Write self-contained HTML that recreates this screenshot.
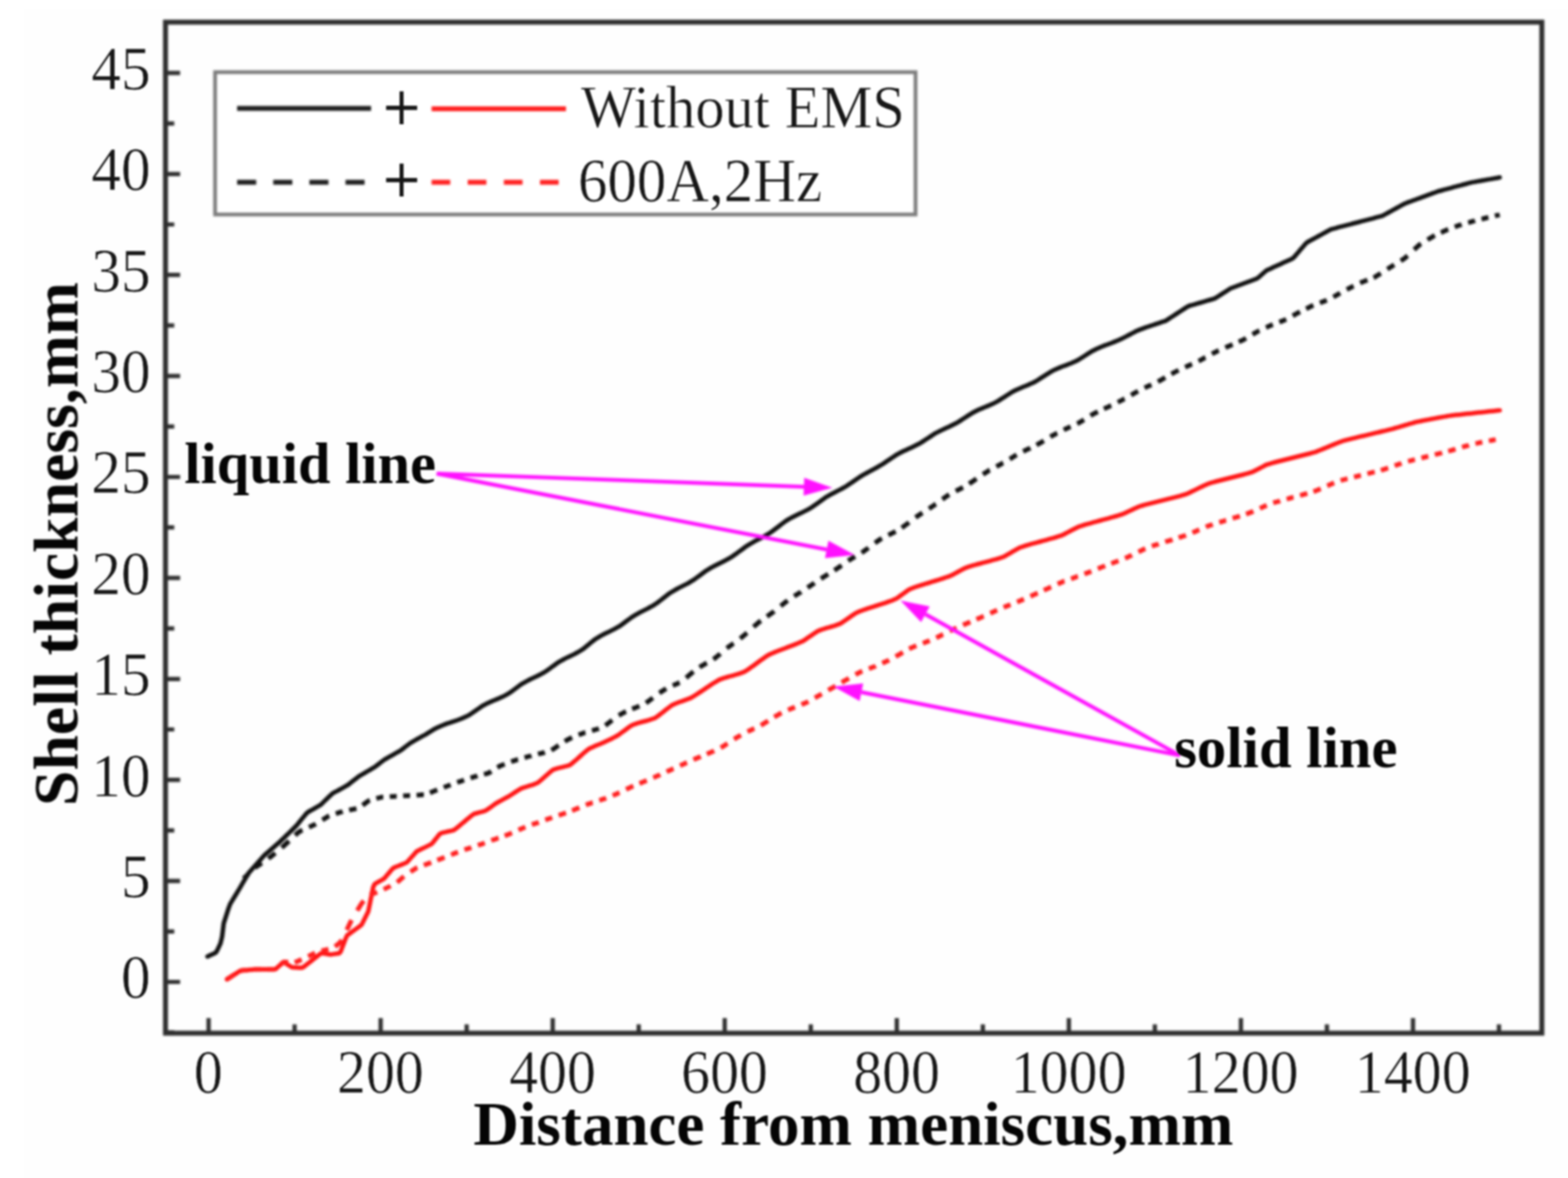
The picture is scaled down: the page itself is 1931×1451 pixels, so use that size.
<!DOCTYPE html>
<html lang="en"><head><meta charset="utf-8"><title>Shell thickness vs distance from meniscus</title>
<style>html,body{margin:0;padding:0;background:#fff;}body{width:1931px;height:1451px;overflow:hidden;}svg{display:block;}text{font-family:"Liberation Serif","DejaVu Serif",serif;fill:#161616;stroke:#fefefe;stroke-width:0.6px;paint-order:fill stroke;}.b{font-weight:bold;fill:#050505;stroke:none;}</style></head><body>
<svg xmlns="http://www.w3.org/2000/svg" width="1931" height="1451" viewBox="0 0 1931 1451">
<rect x="0" y="0" width="1931" height="1451" fill="#ffffff"/>
<rect x="30" y="11" width="1901" height="1440" fill="#fefefe"/>
<defs><filter id="softg" x="0" y="0" width="1931" height="1451" filterUnits="userSpaceOnUse" color-interpolation-filters="sRGB"><feGaussianBlur stdDeviation="1.8"/></filter><filter id="softt" x="0" y="0" width="1931" height="1451" filterUnits="userSpaceOnUse" color-interpolation-filters="sRGB"><feGaussianBlur stdDeviation="1.25"/></filter></defs>
<g id="plot" filter="url(#softg)">
<rect x="203.8" y="27.3" width="1695.0" height="1245.3" fill="none" stroke="#2e2e2e" stroke-width="6.1"/>
<path d="M203.8,1209.5h18.0M203.8,1085.1h18.0M203.8,960.7h18.0M203.8,836.3h18.0M203.8,711.9h18.0M203.8,587.5h18.0M203.8,463.1h18.0M203.8,338.7h18.0M203.8,214.3h18.0M203.8,89.9h18.0M203.8,1271.7h10.8M203.8,1147.3h10.8M203.8,1022.9h10.8M203.8,898.5h10.8M203.8,774.1h10.8M203.8,649.7h10.8M203.8,525.3h10.8M203.8,400.9h10.8M203.8,276.5h10.8M203.8,152.1h10.8M256.9,1272.6v-18.6M468.8,1272.6v-18.6M680.7,1272.6v-18.6M892.5,1272.6v-18.6M1104.4,1272.6v-18.6M1316.3,1272.6v-18.6M1528.2,1272.6v-18.6M1740.1,1272.6v-18.6M362.8,1272.6v-10.8M574.7,1272.6v-10.8M786.6,1272.6v-10.8M998.5,1272.6v-10.8M1210.4,1272.6v-10.8M1422.2,1272.6v-10.8M1634.1,1272.6v-10.8M1846.0,1272.6v-10.8" fill="none" stroke="#2e2e2e" stroke-width="5.2"/>
<rect x="264.9" y="88.9" width="862.6" height="175.3" fill="#fff" stroke="#7c7c7c" stroke-width="4.6"/>
<path d="M292,133.5H457" stroke="#1e1e1e" stroke-width="5.8" fill="none"/>
<path d="M292,224.5H457" stroke="#1e1e1e" stroke-width="5.9" stroke-dasharray="23.5 21" fill="none"/>
<path d="M531.5,134H697" stroke="#ff2020" stroke-width="5.8" fill="none"/>
<path d="M531.5,224.5H697" stroke="#ff2020" stroke-width="5.9" stroke-dasharray="23 21.5" fill="none"/>
<polyline points="255.5,1178.2 257.5,1177.3 259.5,1176.3 261.5,1175.4 263.5,1174.5 265.5,1173.6 267.5,1170.6 269.5,1166.4 271.5,1162.1 273.5,1153.9 275.5,1137.3 277.5,1131.1 279.5,1124.9 281.5,1118.7 283.5,1113.4 285.5,1110.1 287.5,1106.8 289.5,1103.5 291.5,1100.2 293.5,1096.9 295.5,1093.6 297.5,1090.2 299.5,1086.7 301.5,1083.3 303.5,1079.9 305.5,1076.4 307.5,1073.8 309.5,1071.6 311.5,1069.3 313.5,1067.1 315.5,1064.8 317.5,1062.6 319.5,1060.3 321.5,1058.1 323.5,1055.8 325.5,1053.6 327.5,1051.7 329.5,1050.0 331.5,1048.3 333.5,1046.5 335.5,1044.8 337.5,1043.1 339.5,1041.3 341.5,1039.6 343.5,1037.9 345.5,1036.0 347.5,1034.1 349.5,1032.2 351.5,1030.2 353.5,1028.3 355.5,1026.4 357.5,1024.4 359.5,1022.5 361.5,1020.5 363.5,1018.5 365.5,1016.5 367.5,1014.0 369.5,1011.5 371.5,1009.1 373.5,1006.6 375.5,1004.2 377.5,1001.8 379.5,1000.1 381.5,999.0 383.5,997.9 385.5,996.8 387.5,995.6 389.5,994.5 391.5,993.3 393.5,992.2 395.5,990.9 397.5,988.9 399.5,986.9 401.5,984.9 403.5,983.0 405.5,981.1 407.5,979.2 409.5,977.3 411.5,976.2 413.5,975.1 415.5,974.1 417.5,973.0 419.5,971.9 421.5,970.8 423.5,969.7 425.5,968.5 427.5,967.4 429.5,966.1 431.5,964.4 433.5,962.8 435.5,961.3 437.5,959.7 439.5,958.2 441.5,956.6 443.5,955.3 445.5,954.2 447.5,953.0 449.5,951.9 451.5,950.7 453.5,949.5 455.5,948.3 457.5,947.1 459.5,945.9 461.5,944.8 463.5,943.2 465.5,941.7 467.5,940.2 469.5,938.6 471.5,937.1 473.5,935.6 475.5,934.5 477.5,933.4 479.5,932.2 481.5,931.1 483.5,930.0 485.5,928.8 487.5,927.7 489.5,926.5 491.5,925.5 493.5,924.2 495.5,922.7 497.5,921.2 499.5,919.6 501.5,918.1 503.5,916.6 505.5,915.1 507.5,914.0 509.5,912.8 511.5,911.7 513.5,910.5 515.5,909.4 517.5,908.3 519.5,907.2 521.5,906.1 523.5,905.1 525.5,903.9 527.5,902.6 529.5,901.4 531.5,900.2 533.5,898.9 535.5,897.7 537.5,896.7 539.5,895.8 541.5,894.9 543.5,894.0 545.5,893.2 547.5,892.4 549.5,891.6 551.5,890.9 553.5,890.3 555.5,889.6 557.5,889.0 559.5,888.3 561.5,887.7 563.5,887.0 565.5,886.2 567.5,885.5 569.5,884.6 571.5,883.8 573.5,882.8 575.5,881.9 577.5,880.9 579.5,879.5 581.5,878.2 583.5,876.8 585.5,875.4 587.5,874.0 589.5,872.7 591.5,871.3 593.5,869.9 595.5,868.7 597.5,867.7 599.5,866.6 601.5,865.7 603.5,864.7 605.5,863.9 607.5,863.0 609.5,862.2 611.5,861.4 613.5,860.6 615.5,859.7 617.5,858.8 619.5,857.9 621.5,856.9 623.5,855.8 625.5,854.7 627.5,853.5 629.5,852.1 631.5,850.6 633.5,849.1 635.5,847.6 637.5,846.1 639.5,844.6 641.5,843.1 643.5,841.9 645.5,840.8 647.5,839.6 649.5,838.6 651.5,837.5 653.5,836.5 655.5,835.6 657.5,834.6 659.5,833.7 661.5,832.8 663.5,831.7 665.5,830.7 667.5,829.6 669.5,828.5 671.5,827.3 673.5,826.0 675.5,824.6 677.5,823.1 679.5,821.6 681.5,820.2 683.5,818.7 685.5,817.2 687.5,815.9 689.5,814.7 691.5,813.6 693.5,812.5 695.5,811.4 697.5,810.4 699.5,809.4 701.5,808.5 703.5,807.6 705.5,806.6 707.5,805.6 709.5,804.5 711.5,803.4 713.5,802.3 715.5,801.0 717.5,799.8 719.5,798.3 721.5,796.6 723.5,795.0 725.5,793.4 727.5,791.7 729.5,790.1 731.5,788.5 733.5,787.0 735.5,785.8 737.5,784.6 739.5,783.4 741.5,782.3 743.5,781.2 745.5,780.2 747.5,779.3 749.5,778.4 751.5,777.4 753.5,776.4 755.5,775.4 757.5,774.3 759.5,773.2 761.5,772.1 763.5,770.9 765.5,769.5 767.5,768.0 769.5,766.5 771.5,765.0 773.5,763.6 775.5,762.1 777.5,760.6 779.5,759.3 781.5,758.1 783.5,756.9 785.5,755.8 787.5,754.7 789.5,753.6 791.5,752.6 793.5,751.6 795.5,750.6 797.5,749.6 799.5,748.5 801.5,747.4 803.5,746.3 805.5,745.1 807.5,743.8 809.5,742.5 811.5,740.9 813.5,739.4 815.5,737.8 817.5,736.2 819.5,734.7 821.5,733.1 823.5,731.5 825.5,730.2 827.5,729.0 829.5,727.8 831.5,726.6 833.5,725.5 835.5,724.4 837.5,723.4 839.5,722.4 841.5,721.4 843.5,720.4 845.5,719.4 847.5,718.3 849.5,717.1 851.5,715.9 853.5,714.7 855.5,713.4 857.5,711.9 859.5,710.4 861.5,709.0 863.5,707.5 865.5,706.0 867.5,704.5 869.5,703.0 871.5,701.8 873.5,700.6 875.5,699.4 877.5,698.3 879.5,697.2 881.5,696.2 883.5,695.2 885.5,694.2 887.5,693.3 889.5,692.3 891.5,691.2 893.5,690.2 895.5,689.1 897.5,688.0 899.5,686.8 901.5,685.6 903.5,684.3 905.5,682.8 907.5,681.4 909.5,679.9 911.5,678.4 913.5,677.0 915.5,675.5 917.5,674.0 919.5,672.6 921.5,671.4 923.5,670.2 925.5,669.0 927.5,667.8 929.5,666.7 931.5,665.6 933.5,664.6 935.5,663.6 937.5,662.5 939.5,661.4 941.5,660.3 943.5,659.2 945.5,658.0 947.5,656.8 949.5,655.5 951.5,654.1 953.5,652.5 955.5,651.0 957.5,649.5 959.5,648.0 961.5,646.4 963.5,644.9 965.5,643.4 967.5,641.9 969.5,640.6 971.5,639.4 973.5,638.3 975.5,637.2 977.5,636.2 979.5,635.2 981.5,634.2 983.5,633.3 985.5,632.3 987.5,631.4 989.5,630.4 991.5,629.4 993.5,628.4 995.5,627.3 997.5,626.2 999.5,625.0 1001.5,623.6 1003.5,622.2 1005.5,620.8 1007.5,619.4 1009.5,617.9 1011.5,616.5 1013.5,615.1 1015.5,613.6 1017.5,612.2 1019.5,611.1 1021.5,609.9 1023.5,608.8 1025.5,607.8 1027.5,606.7 1029.5,605.7 1031.5,604.6 1033.5,603.6 1035.5,602.6 1037.5,601.5 1039.5,600.4 1041.5,599.3 1043.5,598.0 1045.5,596.6 1047.5,595.3 1049.5,593.9 1051.5,592.6 1053.5,591.2 1055.5,589.8 1057.5,588.5 1059.5,587.1 1061.5,585.9 1063.5,584.7 1065.5,583.6 1067.5,582.5 1069.5,581.4 1071.5,580.3 1073.5,579.2 1075.5,578.2 1077.5,577.1 1079.5,576.0 1081.5,574.9 1083.5,573.7 1085.5,572.5 1087.5,571.3 1089.5,569.9 1091.5,568.6 1093.5,567.2 1095.5,565.9 1097.5,564.5 1099.5,563.2 1101.5,561.9 1103.5,560.5 1105.5,559.4 1107.5,558.3 1109.5,557.3 1111.5,556.3 1113.5,555.3 1115.5,554.4 1117.5,553.5 1119.5,552.6 1121.5,551.7 1123.5,550.7 1125.5,549.8 1127.5,548.8 1129.5,547.8 1131.5,546.8 1133.5,545.7 1135.5,544.4 1137.5,543.1 1139.5,541.8 1141.5,540.5 1143.5,539.2 1145.5,537.9 1147.5,536.6 1149.5,535.2 1151.5,533.9 1153.5,532.9 1155.5,531.9 1157.5,530.8 1159.5,529.9 1161.5,528.9 1163.5,528.0 1165.5,527.1 1167.5,526.2 1169.5,525.3 1171.5,524.3 1173.5,523.3 1175.5,522.3 1177.5,521.3 1179.5,520.2 1181.5,518.9 1183.5,517.6 1185.5,516.3 1187.5,515.0 1189.5,513.7 1191.5,512.4 1193.5,511.1 1195.5,509.9 1197.5,508.6 1199.5,507.5 1201.5,506.5 1203.5,505.5 1205.5,504.6 1207.5,503.7 1209.5,502.9 1211.5,502.0 1213.5,501.2 1215.5,500.4 1217.5,499.6 1219.5,498.7 1221.5,497.8 1223.5,496.9 1225.5,495.9 1227.5,494.9 1229.5,493.7 1231.5,492.4 1233.5,491.1 1235.5,489.8 1237.5,488.6 1239.5,487.3 1241.5,486.0 1243.5,484.7 1245.5,483.4 1247.5,482.3 1249.5,481.3 1251.5,480.3 1253.5,479.4 1255.5,478.5 1257.5,477.7 1259.5,476.8 1261.5,476.0 1263.5,475.2 1265.5,474.4 1267.5,473.5 1269.5,472.6 1271.5,471.7 1273.5,470.7 1275.5,469.7 1277.5,468.5 1279.5,467.2 1281.5,465.9 1283.5,464.6 1285.5,463.4 1287.5,462.1 1289.5,460.8 1291.5,459.6 1293.5,458.3 1295.5,457.1 1297.5,456.1 1299.5,455.2 1301.5,454.3 1303.5,453.4 1305.5,452.6 1307.5,451.8 1309.5,451.0 1311.5,450.3 1313.5,449.6 1315.5,448.8 1317.5,448.0 1319.5,447.2 1321.5,446.3 1323.5,445.4 1325.5,444.5 1327.5,443.5 1329.5,442.3 1331.5,441.0 1333.5,439.8 1335.5,438.5 1337.5,437.2 1339.5,435.9 1341.5,434.7 1343.5,433.4 1345.5,432.2 1347.5,431.2 1349.5,430.2 1351.5,429.3 1353.5,428.4 1355.5,427.5 1357.5,426.7 1359.5,425.9 1361.5,425.2 1363.5,424.5 1365.5,423.7 1367.5,423.0 1369.5,422.2 1371.5,421.4 1373.5,420.6 1375.5,419.8 1377.5,419.0 1379.5,418.1 1381.5,417.2 1383.5,416.1 1385.5,415.1 1387.5,414.1 1389.5,413.0 1391.5,412.0 1393.5,410.9 1395.5,409.9 1397.5,408.8 1399.5,407.8 1401.5,406.9 1403.5,406.1 1405.5,405.4 1407.5,404.6 1409.5,403.9 1411.5,403.2 1413.5,402.5 1415.5,401.8 1417.5,401.2 1419.5,400.5 1421.5,399.8 1423.5,399.1 1425.5,398.5 1427.5,397.8 1429.5,397.1 1431.5,396.4 1433.5,395.8 1435.5,395.1 1437.5,393.9 1439.5,392.6 1441.5,391.3 1443.5,390.0 1445.5,388.7 1447.5,387.4 1449.5,386.1 1451.5,384.8 1453.5,383.5 1455.5,382.2 1457.5,380.9 1459.5,379.6 1461.5,378.3 1463.5,377.1 1465.5,376.5 1467.5,375.9 1469.5,375.4 1471.5,374.8 1473.5,374.2 1475.5,373.6 1477.5,373.0 1479.5,372.5 1481.5,371.9 1483.5,371.3 1485.5,370.7 1487.5,370.1 1489.5,369.5 1491.5,369.0 1493.5,368.4 1495.5,367.8 1497.5,366.8 1499.5,365.5 1501.5,364.2 1503.5,362.9 1505.5,361.6 1507.5,360.3 1509.5,359.1 1511.5,357.8 1513.5,356.5 1515.5,355.2 1517.5,354.5 1519.5,353.7 1521.5,353.0 1523.5,352.2 1525.5,351.5 1527.5,350.7 1529.5,350.0 1531.5,349.2 1533.5,348.5 1535.5,347.7 1537.5,347.0 1539.5,346.3 1541.5,345.5 1543.5,344.8 1545.5,344.0 1547.5,343.3 1549.5,342.0 1551.5,340.3 1553.5,338.5 1555.5,336.7 1557.5,335.0 1559.5,333.2 1561.5,332.3 1563.5,331.4 1565.5,330.5 1567.5,329.5 1569.5,328.6 1571.5,327.7 1573.5,326.8 1575.5,325.9 1577.5,325.0 1579.5,324.0 1581.5,323.1 1583.5,322.2 1585.5,321.3 1587.5,320.4 1589.5,319.5 1591.5,318.6 1593.5,316.9 1595.5,314.6 1597.5,312.3 1599.5,310.0 1601.5,307.6 1603.5,305.3 1605.5,303.0 1607.5,300.6 1609.5,298.6 1611.5,297.5 1613.5,296.4 1615.5,295.3 1617.5,294.3 1619.5,293.2 1621.5,292.1 1623.5,291.0 1625.5,289.9 1627.5,288.8 1629.5,287.7 1631.5,286.6 1633.5,285.5 1635.5,284.4 1637.5,283.3 1639.5,282.3 1641.5,281.8 1643.5,281.3 1645.5,280.8 1647.5,280.2 1649.5,279.7 1651.5,279.2 1653.5,278.7 1655.5,278.2 1657.5,277.6 1659.5,277.1 1661.5,276.6 1663.5,276.1 1665.5,275.5 1667.5,275.0 1669.5,274.5 1671.5,274.0 1673.5,273.5 1675.5,272.9 1677.5,272.4 1679.5,271.9 1681.5,271.4 1683.5,270.9 1685.5,270.3 1687.5,269.8 1689.5,269.3 1691.5,268.8 1693.5,268.2 1695.5,267.7 1697.5,267.2 1699.5,266.7 1701.5,266.2 1703.5,265.3 1705.5,264.2 1707.5,263.1 1709.5,262.0 1711.5,260.9 1713.5,259.8 1715.5,258.7 1717.5,257.6 1719.5,256.5 1721.5,255.4 1723.5,254.3 1725.5,253.2 1727.5,252.1 1729.5,251.0 1731.5,250.2 1733.5,249.4 1735.5,248.7 1737.5,248.0 1739.5,247.2 1741.5,246.5 1743.5,245.8 1745.5,245.0 1747.5,244.3 1749.5,243.6 1751.5,242.8 1753.5,242.1 1755.5,241.4 1757.5,240.6 1759.5,239.9 1761.5,239.2 1763.5,238.4 1765.5,237.7 1767.5,237.0 1769.5,236.2 1771.5,235.5 1773.5,235.0 1775.5,234.5 1777.5,233.9 1779.5,233.4 1781.5,232.9 1783.5,232.3 1785.5,231.8 1787.5,231.3 1789.5,230.7 1791.5,230.2 1793.5,229.7 1795.5,229.1 1797.5,228.6 1799.5,228.1 1801.5,227.5 1803.5,227.0 1805.5,226.5 1807.5,225.9 1809.5,225.4 1811.5,224.9 1813.5,224.4 1815.5,224.1 1817.5,223.7 1819.5,223.4 1821.5,223.0 1823.5,222.7 1825.5,222.3 1827.5,222.0 1829.5,221.6 1831.5,221.3 1833.5,220.9 1835.5,220.6 1837.5,220.2 1839.5,219.9 1841.5,219.5 1843.5,219.2 1845.5,218.8 1846.9,218.6" fill="none" stroke="#101010" stroke-width="5.5" stroke-linejoin="round" stroke-linecap="round"/>
<path d="M300.0,1082.0L302.0,1080.1L304.0,1078.3L306.0,1076.4M314.0,1068.9L316.0,1067.3L318.0,1066.0L320.0,1064.7L322.0,1063.3L322.5,1063.0M330.5,1057.6L332.5,1056.0L334.5,1054.4L336.5,1052.8L338.5,1051.2L339.0,1050.8M347.0,1044.2L349.0,1042.4L351.0,1040.5L353.0,1038.7L355.0,1036.9L356.0,1036.0M363.5,1028.9L365.5,1027.0L367.5,1025.2L369.5,1023.9L371.5,1022.9L372.5,1022.5M380.5,1018.9L382.5,1018.0L384.5,1017.0L386.5,1016.1L388.5,1015.2L389.0,1014.9M397.0,1010.0L399.0,1008.8L401.0,1007.6L403.0,1006.3L405.0,1005.1L405.5,1004.9M413.5,1002.2L415.5,1001.6L417.5,1000.9L419.5,1000.3L421.5,999.7L422.0,999.5M430.0,997.9L432.0,997.4L434.0,997.0L436.0,996.6L438.0,996.2L439.0,996.0M446.5,991.9L448.5,990.4L450.5,988.9L452.5,987.4L454.5,986.1L455.5,985.7M463.5,983.6L465.5,983.0L467.5,982.5L469.5,982.0L471.5,981.8L472.0,981.8M480.0,981.4L482.0,981.2L484.0,981.1L486.0,981.0L488.0,980.9L488.5,980.9M496.5,980.4L498.5,980.2L500.5,980.1L502.5,980.0L504.5,979.8L505.0,979.8M513.0,979.4L515.0,979.3L517.0,979.2L519.0,979.0L521.0,978.9L522.0,978.9M529.5,976.5L531.5,975.7L533.5,974.9L535.5,974.1L537.5,973.3L538.5,972.9M546.5,969.9L548.5,969.1L550.5,968.4L552.5,967.6L554.5,966.9L555.0,966.7M563.0,963.8L565.0,963.1L567.0,962.4L569.0,961.7L571.0,961.0L571.5,960.8M579.5,958.2L581.5,957.6L583.5,957.0L585.5,956.4L587.5,955.8L588.0,955.6M596.0,953.8L598.0,953.3L600.0,952.8L602.0,952.0L604.0,950.8L605.0,950.1M612.5,945.4L614.5,944.2L616.5,943.2L618.5,942.4L620.5,941.6L621.5,941.2M629.5,938.2L631.5,937.5L633.5,936.9L635.5,936.2L637.5,935.6L638.0,935.5M646.0,933.1L648.0,932.6L650.0,932.0L652.0,931.5L654.0,931.0L654.5,930.8M662.5,928.8L664.5,928.3L666.5,927.9L668.5,927.4L670.5,926.9L671.0,926.7M679.0,924.0L681.0,922.9L683.0,921.6L685.0,920.2L687.0,918.7L688.0,918.0M695.5,913.2L697.5,912.0L699.5,910.9L701.5,909.9L703.5,908.9L704.5,908.4M712.5,905.1L714.5,904.4L716.5,903.7L718.5,903.0L720.5,902.4L721.0,902.3M729.0,899.9L731.0,899.4L733.0,898.8L735.0,898.2L737.0,897.5L737.5,897.3M745.5,893.6L747.5,892.1L749.5,890.5L751.5,888.9L753.5,887.3L754.0,886.9M762.0,881.2L764.0,880.1L766.0,878.9L768.0,877.9L770.0,876.9L771.0,876.5M778.5,873.2L780.5,872.4L782.5,871.7L784.5,870.9L786.5,870.1L787.5,869.7M795.5,865.9L797.5,864.5L799.5,863.0L801.5,861.5L803.5,860.0L804.0,859.6M812.0,853.6L814.0,852.3L816.0,851.0L818.0,849.8L820.0,848.6L820.5,848.3M828.5,844.4L830.5,843.6L832.5,842.8L834.5,841.9L836.5,840.9L837.0,840.7M845.0,835.0L847.0,833.2L849.0,831.4L851.0,829.7L853.0,828.1L854.0,827.3M861.5,821.9L863.5,820.6L865.5,819.4L867.5,818.2L869.5,817.1L870.5,816.6M878.5,812.1L880.5,810.7L882.5,809.1L884.5,807.4L886.5,805.7L887.0,805.2M895.0,798.5L897.0,797.0L899.0,795.6L901.0,794.2L903.0,792.7L903.5,792.4M911.5,786.6L913.5,785.0L915.5,783.3L917.5,781.6L919.5,779.8L920.0,779.4M928.0,772.2L930.0,770.4L932.0,768.7L934.0,766.9L936.0,765.4L937.0,764.7M944.5,759.4L946.5,758.0L948.5,756.5L950.5,755.1L952.5,753.7L953.5,752.9M961.5,746.4L963.5,744.8L965.5,743.2L967.5,741.6L969.5,740.1L970.0,739.7M978.0,734.4L980.0,733.1L982.0,731.9L984.0,730.6L986.0,729.4L986.5,729.0M994.5,723.9L996.5,722.5L998.5,721.2L1000.5,719.8L1002.5,718.5L1003.0,718.1M1011.0,712.8L1013.0,711.5L1015.0,710.2L1017.0,709.0L1019.0,707.8L1020.0,707.2M1027.5,702.5L1029.5,701.2L1031.5,699.9L1033.5,698.5L1035.5,697.1L1036.5,696.4M1044.5,690.8L1046.5,689.5L1048.5,688.3L1050.5,687.1L1052.5,685.9L1053.0,685.6M1061.0,680.9L1063.0,679.6L1065.0,678.1L1067.0,676.7L1069.0,675.2L1069.5,674.8M1077.5,668.8L1079.5,667.4L1081.5,666.0L1083.5,664.6L1085.5,663.4L1086.0,663.1M1094.0,659.1L1096.0,658.2L1098.0,657.2L1100.0,656.2L1102.0,655.2L1103.0,654.7M1110.5,650.1L1112.5,648.7L1114.5,647.2L1116.5,645.7L1118.5,644.2L1119.5,643.4M1127.5,637.4L1129.5,636.0L1131.5,634.6L1133.5,633.3L1135.5,632.0L1136.0,631.7M1144.0,626.6L1146.0,625.3L1148.0,623.9L1150.0,622.6L1152.0,621.1L1152.5,620.8M1160.5,615.0L1162.5,613.6L1164.5,612.2L1166.5,610.8L1168.5,609.5L1169.0,609.2M1177.0,604.9L1179.0,603.9L1181.0,602.9L1183.0,601.9L1185.0,600.8L1186.0,600.3M1193.5,595.9L1195.5,594.5L1197.5,593.2L1199.5,591.8L1201.5,590.4L1202.5,589.7M1210.5,584.3L1212.5,583.0L1214.5,581.7L1216.5,580.5L1218.5,579.2L1219.0,579.0M1227.0,574.7L1229.0,573.6L1231.0,572.6L1233.0,571.5L1235.0,570.4L1235.5,570.2M1243.5,565.4L1245.5,564.2L1247.5,563.0L1249.5,561.8L1251.5,560.6L1252.0,560.3M1260.0,556.0L1262.0,555.1L1264.0,554.2L1266.0,553.2L1268.0,552.3L1269.0,551.8M1276.5,548.2L1278.5,547.0L1280.5,545.9L1282.5,544.7L1284.5,543.5L1285.5,542.9M1293.5,538.1L1295.5,536.9L1297.5,535.8L1299.5,534.8L1301.5,533.7L1302.0,533.5M1310.0,529.5L1312.0,528.5L1314.0,527.6L1316.0,526.7L1318.0,525.8L1318.5,525.6M1326.5,521.8L1328.5,520.9L1330.5,519.8L1332.5,518.6L1334.5,517.3L1335.0,517.0M1343.0,512.0L1345.0,510.7L1347.0,509.6L1349.0,508.6L1351.0,507.6L1352.0,507.1M1359.5,503.6L1361.5,502.7L1363.5,501.8L1365.5,500.9L1367.5,499.9L1368.5,499.5M1376.5,495.5L1378.5,494.5L1380.5,493.5L1382.5,492.5L1384.5,491.4L1385.0,491.2M1393.0,486.7L1395.0,485.5L1397.0,484.3L1399.0,483.2L1401.0,482.0L1401.5,481.7M1409.5,477.7L1411.5,476.8L1413.5,475.9L1415.5,475.0L1417.5,474.2L1418.0,474.0M1426.0,470.3L1428.0,469.1L1430.0,467.9L1432.0,466.7L1434.0,465.5L1435.0,464.9M1442.5,460.6L1444.5,459.6L1446.5,458.5L1448.5,457.5L1450.5,456.5L1451.5,456.0M1459.5,452.3L1461.5,451.4L1463.5,450.5L1465.5,449.6L1467.5,448.7L1468.0,448.5M1476.0,444.8L1478.0,443.8L1480.0,442.7L1482.0,441.6L1484.0,440.5L1484.5,440.3M1492.5,435.9L1494.5,434.8L1496.5,433.8L1498.5,432.8L1500.5,431.9L1501.0,431.7M1509.0,428.2L1511.0,427.3L1513.0,426.5L1515.0,425.6L1517.0,424.8L1518.0,424.4M1525.5,421.1L1527.5,420.2L1529.5,419.3L1531.5,418.3L1533.5,417.2L1534.5,416.6M1542.5,412.0L1544.5,410.8L1546.5,409.6L1548.5,408.5L1550.5,407.5L1551.0,407.3M1559.0,403.4L1561.0,402.6L1563.0,401.7L1565.0,400.8L1567.0,400.0L1567.5,399.8M1575.5,396.8L1577.5,396.0L1579.5,395.2L1581.5,394.4L1583.5,393.6L1584.0,393.4M1592.0,389.0L1594.0,387.9L1596.0,386.8L1598.0,385.6L1600.0,384.6L1601.0,384.1M1608.5,380.3L1610.5,379.3L1612.5,378.3L1614.5,377.3L1616.5,376.5L1617.5,376.1M1625.5,373.1L1627.5,372.3L1629.5,371.6L1631.5,370.8L1633.5,370.1L1634.0,369.9M1642.0,365.8L1644.0,364.7L1646.0,363.6L1648.0,362.4L1650.0,361.3L1650.5,361.0M1658.5,356.6L1660.5,355.6L1662.5,354.6L1664.5,353.6L1666.5,352.6L1667.0,352.4M1675.0,348.5L1677.0,347.6L1679.0,346.9L1681.0,346.1L1683.0,345.3L1684.0,344.9M1691.5,342.0L1693.5,341.1L1695.5,339.8L1697.5,338.6L1699.5,337.3L1700.5,336.7M1708.5,331.6L1710.5,330.3L1712.5,329.1L1714.5,327.8L1716.5,326.6L1717.0,326.3M1725.0,321.2L1727.0,320.0L1729.0,318.7L1731.0,317.2L1733.0,315.3L1733.5,314.9M1741.5,307.5L1743.5,305.7L1745.5,303.8L1747.5,302.0L1749.5,300.6L1750.0,300.3M1758.0,295.4L1760.0,294.1L1762.0,292.9L1764.0,291.7L1766.0,290.5L1767.0,290.0M1774.5,286.6L1776.5,285.7L1778.5,284.7L1780.5,283.8L1782.5,282.9L1783.5,282.5M1791.5,279.5L1793.5,278.8L1795.5,278.1L1797.5,277.3L1799.5,276.7L1800.0,276.5M1808.0,274.2L1810.0,273.7L1812.0,273.1L1814.0,272.5L1816.0,272.0L1816.5,271.8M1824.5,269.8L1826.5,269.4L1828.5,268.9L1830.5,268.4L1832.5,267.9L1833.0,267.8M1841.0,265.9L1843.0,265.4L1845.0,265.0L1846.9,264.5" fill="none" stroke="#101010" stroke-width="5.8" stroke-linejoin="round"/>
<polyline points="279.5,1206.3 281.5,1205.0 283.5,1203.7 285.5,1202.4 287.5,1201.1 289.5,1199.9 291.5,1198.6 293.5,1197.3 295.5,1196.0 297.5,1195.5 299.5,1195.3 301.5,1195.1 303.5,1195.0 305.5,1194.8 307.5,1194.6 309.5,1194.5 311.5,1194.3 313.5,1194.1 315.5,1193.9 317.5,1193.9 319.5,1193.9 321.5,1193.9 323.5,1193.9 325.5,1193.9 327.5,1193.9 329.5,1193.9 331.5,1193.9 333.5,1193.9 335.5,1193.9 337.5,1193.9 339.5,1193.6 341.5,1191.8 343.5,1190.0 345.5,1188.2 347.5,1186.3 349.5,1185.0 351.5,1186.3 353.5,1187.7 355.5,1189.0 357.5,1190.3 359.5,1191.4 361.5,1191.5 363.5,1191.7 365.5,1191.8 367.5,1191.9 369.5,1192.0 371.5,1192.1 373.5,1191.3 375.5,1189.8 377.5,1188.2 379.5,1186.6 381.5,1185.1 383.5,1183.5 385.5,1181.9 387.5,1180.4 389.5,1178.8 391.5,1177.2 393.5,1175.6 395.5,1174.1 397.5,1174.3 399.5,1174.6 401.5,1174.9 403.5,1175.2 405.5,1175.5 407.5,1175.7 409.5,1175.4 411.5,1175.1 413.5,1174.8 415.5,1174.5 417.5,1174.2 419.5,1172.2 421.5,1166.9 423.5,1161.7 425.5,1156.4 427.5,1152.1 429.5,1150.7 431.5,1149.2 433.5,1147.8 435.5,1146.3 437.5,1144.9 439.5,1143.4 441.5,1142.0 443.5,1140.5 445.5,1138.8 447.5,1134.8 449.5,1130.8 451.5,1126.8 453.5,1122.8 455.5,1113.1 457.5,1103.0 459.5,1093.0 461.5,1088.8 463.5,1087.7 465.5,1086.5 467.5,1085.4 469.5,1084.3 471.5,1083.2 473.5,1081.7 475.5,1079.3 477.5,1076.9 479.5,1074.6 481.5,1072.3 483.5,1069.9 485.5,1068.6 487.5,1067.8 489.5,1067.0 491.5,1066.2 493.5,1065.4 495.5,1064.6 497.5,1063.8 499.5,1063.0 501.5,1061.8 503.5,1059.5 505.5,1057.2 507.5,1055.0 509.5,1052.8 511.5,1050.5 513.5,1048.4 515.5,1047.5 517.5,1046.5 519.5,1045.5 521.5,1044.6 523.5,1043.6 525.5,1042.6 527.5,1041.6 529.5,1040.6 531.5,1039.5 533.5,1037.3 535.5,1034.7 537.5,1032.2 539.5,1029.8 541.5,1027.3 543.5,1026.1 545.5,1025.6 547.5,1025.1 549.5,1024.7 551.5,1024.2 553.5,1023.8 555.5,1023.4 557.5,1022.9 559.5,1022.1 561.5,1020.6 563.5,1019.0 565.5,1017.3 567.5,1015.7 569.5,1014.0 571.5,1012.3 573.5,1010.6 575.5,1008.9 577.5,1007.3 579.5,1005.7 581.5,1004.1 583.5,1002.6 585.5,1002.0 587.5,1001.5 589.5,1000.9 591.5,1000.4 593.5,999.9 595.5,999.3 597.5,998.7 599.5,997.6 601.5,996.2 603.5,994.8 605.5,993.4 607.5,991.9 609.5,990.4 611.5,989.1 613.5,988.0 615.5,986.9 617.5,985.8 619.5,984.7 621.5,983.6 623.5,982.5 625.5,981.5 627.5,980.3 629.5,979.0 631.5,977.7 633.5,976.4 635.5,975.1 637.5,973.8 639.5,972.6 641.5,971.4 643.5,970.6 645.5,969.9 647.5,969.3 649.5,968.7 651.5,968.0 653.5,967.4 655.5,966.8 657.5,966.1 659.5,965.3 661.5,964.5 663.5,963.2 665.5,961.5 667.5,959.8 669.5,958.0 671.5,956.2 673.5,954.5 675.5,952.7 677.5,951.0 679.5,949.3 681.5,947.9 683.5,947.3 685.5,946.6 687.5,946.1 689.5,945.6 691.5,945.1 693.5,944.7 695.5,944.2 697.5,943.7 699.5,943.1 701.5,942.4 703.5,941.0 705.5,939.4 707.5,937.7 709.5,936.0 711.5,934.2 713.5,932.4 715.5,930.6 717.5,928.8 719.5,927.0 721.5,925.3 723.5,923.7 725.5,922.3 727.5,921.3 729.5,920.4 731.5,919.5 733.5,918.6 735.5,917.8 737.5,917.0 739.5,916.2 741.5,915.3 743.5,914.4 745.5,913.5 747.5,912.6 749.5,911.6 751.5,910.7 753.5,909.7 755.5,908.6 757.5,907.6 759.5,906.5 761.5,905.4 763.5,903.9 765.5,902.4 767.5,900.9 769.5,899.5 771.5,898.0 773.5,896.5 775.5,895.1 777.5,893.7 779.5,892.8 781.5,892.0 783.5,891.4 785.5,890.7 787.5,890.1 789.5,889.5 791.5,889.0 793.5,888.5 795.5,888.0 797.5,887.5 799.5,886.8 801.5,886.2 803.5,885.5 805.5,884.8 807.5,883.9 809.5,882.4 811.5,881.0 813.5,879.4 815.5,877.9 817.5,876.3 819.5,874.7 821.5,873.1 823.5,871.6 825.5,870.1 827.5,868.6 829.5,867.7 831.5,866.8 833.5,866.0 835.5,865.2 837.5,864.5 839.5,863.8 841.5,863.1 843.5,862.4 845.5,861.7 847.5,860.9 849.5,860.2 851.5,859.2 853.5,858.0 855.5,856.8 857.5,855.5 859.5,854.2 861.5,852.9 863.5,851.6 865.5,850.3 867.5,848.9 869.5,847.6 871.5,846.2 873.5,844.9 875.5,843.5 877.5,842.2 879.5,841.0 881.5,839.8 883.5,838.6 885.5,837.4 887.5,836.6 889.5,835.9 891.5,835.2 893.5,834.6 895.5,834.0 897.5,833.4 899.5,832.9 901.5,832.3 903.5,831.8 905.5,831.2 907.5,830.7 909.5,830.0 911.5,829.4 913.5,828.7 915.5,827.9 917.5,827.0 919.5,825.7 921.5,824.4 923.5,823.0 925.5,821.6 927.5,820.2 929.5,818.7 931.5,817.2 933.5,815.7 935.5,814.2 937.5,812.8 939.5,811.4 941.5,810.0 943.5,808.6 945.5,807.3 947.5,806.3 949.5,805.3 951.5,804.5 953.5,803.6 955.5,802.8 957.5,802.0 959.5,801.2 961.5,800.5 963.5,799.7 965.5,799.0 967.5,798.2 969.5,797.4 971.5,796.7 973.5,795.9 975.5,795.2 977.5,794.4 979.5,793.6 981.5,792.8 983.5,792.0 985.5,791.1 987.5,790.2 989.5,789.2 991.5,787.9 993.5,786.5 995.5,785.1 997.5,783.8 999.5,782.4 1001.5,781.0 1003.5,779.7 1005.5,778.4 1007.5,777.2 1009.5,776.4 1011.5,775.7 1013.5,775.0 1015.5,774.3 1017.5,773.7 1019.5,773.1 1021.5,772.6 1023.5,772.0 1025.5,771.4 1027.5,770.8 1029.5,770.1 1031.5,769.4 1033.5,768.7 1035.5,767.7 1037.5,766.4 1039.5,765.0 1041.5,763.7 1043.5,762.3 1045.5,760.9 1047.5,759.5 1049.5,758.1 1051.5,756.8 1053.5,755.4 1055.5,754.4 1057.5,753.5 1059.5,752.7 1061.5,752.0 1063.5,751.2 1065.5,750.6 1067.5,749.9 1069.5,749.2 1071.5,748.6 1073.5,747.9 1075.5,747.3 1077.5,746.6 1079.5,746.0 1081.5,745.4 1083.5,744.7 1085.5,744.1 1087.5,743.4 1089.5,742.8 1091.5,742.1 1093.5,741.4 1095.5,740.7 1097.5,740.0 1099.5,739.2 1101.5,738.3 1103.5,737.5 1105.5,736.2 1107.5,734.8 1109.5,733.3 1111.5,731.9 1113.5,730.4 1115.5,729.0 1117.5,727.5 1119.5,726.2 1121.5,725.3 1123.5,724.5 1125.5,723.7 1127.5,723.0 1129.5,722.3 1131.5,721.7 1133.5,721.1 1135.5,720.4 1137.5,719.8 1139.5,719.2 1141.5,718.6 1143.5,718.0 1145.5,717.4 1147.5,716.7 1149.5,716.1 1151.5,715.5 1153.5,714.9 1155.5,714.3 1157.5,713.7 1159.5,713.0 1161.5,712.4 1163.5,711.7 1165.5,711.0 1167.5,710.3 1169.5,709.6 1171.5,708.8 1173.5,707.8 1175.5,706.7 1177.5,705.6 1179.5,704.5 1181.5,703.4 1183.5,702.3 1185.5,701.2 1187.5,700.2 1189.5,699.3 1191.5,698.6 1193.5,697.9 1195.5,697.3 1197.5,696.7 1199.5,696.1 1201.5,695.6 1203.5,695.0 1205.5,694.5 1207.5,694.0 1209.5,693.4 1211.5,692.9 1213.5,692.4 1215.5,691.8 1217.5,691.3 1219.5,690.8 1221.5,690.2 1223.5,689.7 1225.5,689.2 1227.5,688.6 1229.5,688.0 1231.5,687.3 1233.5,686.7 1235.5,686.0 1237.5,685.0 1239.5,683.9 1241.5,682.7 1243.5,681.6 1245.5,680.4 1247.5,679.2 1249.5,678.1 1251.5,676.9 1253.5,675.8 1255.5,674.7 1257.5,674.0 1259.5,673.3 1261.5,672.6 1263.5,672.0 1265.5,671.4 1267.5,670.8 1269.5,670.2 1271.5,669.7 1273.5,669.2 1275.5,668.6 1277.5,668.1 1279.5,667.5 1281.5,667.0 1283.5,666.4 1285.5,665.9 1287.5,665.3 1289.5,664.8 1291.5,664.2 1293.5,663.7 1295.5,663.1 1297.5,662.6 1299.5,662.0 1301.5,661.4 1303.5,660.7 1305.5,660.1 1307.5,659.4 1309.5,658.5 1311.5,657.5 1313.5,656.4 1315.5,655.4 1317.5,654.3 1319.5,653.3 1321.5,652.2 1323.5,651.2 1325.5,650.2 1327.5,649.2 1329.5,648.4 1331.5,647.8 1333.5,647.1 1335.5,646.5 1337.5,645.9 1339.5,645.3 1341.5,644.8 1343.5,644.3 1345.5,643.7 1347.5,643.2 1349.5,642.6 1351.5,642.1 1353.5,641.5 1355.5,641.0 1357.5,640.4 1359.5,639.9 1361.5,639.3 1363.5,638.8 1365.5,638.3 1367.5,637.7 1369.5,637.2 1371.5,636.6 1373.5,636.0 1375.5,635.5 1377.5,634.9 1379.5,634.2 1381.5,633.6 1383.5,632.8 1385.5,631.9 1387.5,631.0 1389.5,630.1 1391.5,629.1 1393.5,628.2 1395.5,627.2 1397.5,626.3 1399.5,625.4 1401.5,624.5 1403.5,623.7 1405.5,623.1 1407.5,622.5 1409.5,621.9 1411.5,621.4 1413.5,620.9 1415.5,620.4 1417.5,619.9 1419.5,619.4 1421.5,618.9 1423.5,618.4 1425.5,617.9 1427.5,617.4 1429.5,616.9 1431.5,616.4 1433.5,615.9 1435.5,615.4 1437.5,614.8 1439.5,614.3 1441.5,613.9 1443.5,613.4 1445.5,612.9 1447.5,612.4 1449.5,611.8 1451.5,611.3 1453.5,610.8 1455.5,610.2 1457.5,609.6 1459.5,609.0 1461.5,608.3 1463.5,607.4 1465.5,606.5 1467.5,605.5 1469.5,604.6 1471.5,603.6 1473.5,602.6 1475.5,601.6 1477.5,600.6 1479.5,599.7 1481.5,598.7 1483.5,597.8 1485.5,596.9 1487.5,596.0 1489.5,595.3 1491.5,594.7 1493.5,594.2 1495.5,593.6 1497.5,593.0 1499.5,592.5 1501.5,592.0 1503.5,591.5 1505.5,591.0 1507.5,590.5 1509.5,590.0 1511.5,589.5 1513.5,589.0 1515.5,588.5 1517.5,588.0 1519.5,587.5 1521.5,587.0 1523.5,586.5 1525.5,586.0 1527.5,585.5 1529.5,585.0 1531.5,584.5 1533.5,583.9 1535.5,583.4 1537.5,582.8 1539.5,582.2 1541.5,581.6 1543.5,580.8 1545.5,579.8 1547.5,578.8 1549.5,577.7 1551.5,576.7 1553.5,575.6 1555.5,574.6 1557.5,573.5 1559.5,572.5 1561.5,571.9 1563.5,571.3 1565.5,570.7 1567.5,570.1 1569.5,569.5 1571.5,569.0 1573.5,568.5 1575.5,568.0 1577.5,567.5 1579.5,567.0 1581.5,566.5 1583.5,566.0 1585.5,565.5 1587.5,565.0 1589.5,564.5 1591.5,564.0 1593.5,563.5 1595.5,563.0 1597.5,562.5 1599.5,562.0 1601.5,561.5 1603.5,561.0 1605.5,560.5 1607.5,560.0 1609.5,559.5 1611.5,559.0 1613.5,558.5 1615.5,557.9 1617.5,557.3 1619.5,556.8 1621.5,556.1 1623.5,555.3 1625.5,554.5 1627.5,553.7 1629.5,552.9 1631.5,552.1 1633.5,551.3 1635.5,550.4 1637.5,549.6 1639.5,548.7 1641.5,547.9 1643.5,547.1 1645.5,546.3 1647.5,545.5 1649.5,544.7 1651.5,544.0 1653.5,543.2 1655.5,542.7 1657.5,542.1 1659.5,541.6 1661.5,541.1 1663.5,540.6 1665.5,540.1 1667.5,539.6 1669.5,539.2 1671.5,538.7 1673.5,538.2 1675.5,537.7 1677.5,537.2 1679.5,536.8 1681.5,536.3 1683.5,535.8 1685.5,535.3 1687.5,534.9 1689.5,534.4 1691.5,533.9 1693.5,533.4 1695.5,532.9 1697.5,532.5 1699.5,532.0 1701.5,531.5 1703.5,531.0 1705.5,530.6 1707.5,530.1 1709.5,529.6 1711.5,529.1 1713.5,528.6 1715.5,528.1 1717.5,527.5 1719.5,526.9 1721.5,526.4 1723.5,525.8 1725.5,525.2 1727.5,524.6 1729.5,524.0 1731.5,523.4 1733.5,522.8 1735.5,522.2 1737.5,521.6 1739.5,521.1 1741.5,520.5 1743.5,519.9 1745.5,519.5 1747.5,519.1 1749.5,518.7 1751.5,518.3 1753.5,517.9 1755.5,517.5 1757.5,517.1 1759.5,516.8 1761.5,516.4 1763.5,516.0 1765.5,515.6 1767.5,515.3 1769.5,514.9 1771.5,514.5 1773.5,514.1 1775.5,513.8 1777.5,513.4 1779.5,513.1 1781.5,512.7 1783.5,512.4 1785.5,512.1 1787.5,511.8 1789.5,511.6 1791.5,511.3 1793.5,511.1 1795.5,510.9 1797.5,510.7 1799.5,510.5 1801.5,510.2 1803.5,510.0 1805.5,509.8 1807.5,509.6 1809.5,509.4 1811.5,509.2 1813.5,509.0 1815.5,508.7 1817.5,508.5 1819.5,508.3 1821.5,508.1 1823.5,507.9 1825.5,507.7 1827.5,507.5 1829.5,507.3 1831.5,507.0 1833.5,506.8 1835.5,506.6 1837.5,506.4 1839.5,506.2 1841.5,506.0 1843.5,505.8 1845.5,505.6 1846.9,505.4" fill="none" stroke="#ff1414" stroke-width="5.5" stroke-linejoin="round" stroke-linecap="round"/>
<path d="M279.5,1206.3L281.5,1205.0L283.5,1203.7L285.5,1202.4L287.5,1201.1L288.5,1200.5M296.5,1195.7L298.5,1195.4L300.5,1195.2L302.5,1195.1L304.5,1194.9L305.0,1194.8M313.0,1194.2L315.0,1194.0L317.0,1193.9L319.0,1193.9L321.0,1193.9L321.5,1193.9M329.5,1193.9L331.5,1193.9L333.5,1193.9L335.5,1193.9L337.5,1193.9L338.5,1193.8M346.0,1187.7L348.0,1186.0L350.0,1184.9L352.0,1185.1L354.0,1185.2L355.0,1185.3M363.0,1185.5L365.0,1184.7L367.0,1183.9L369.0,1183.0L371.0,1182.1L371.5,1181.9M379.5,1178.2L381.5,1177.2L383.5,1176.2L385.5,1175.2L387.5,1174.2L388.0,1174.0M396.0,1171.1L398.0,1170.7L400.0,1170.2L402.0,1169.8L404.0,1169.3L404.5,1169.2M412.5,1166.0L414.5,1164.4L416.5,1162.8L418.5,1161.2L420.5,1158.6L421.0,1157.8M427.0,1145.5L429.0,1141.4L431.0,1137.2L433.0,1133.4M440.0,1121.6L442.0,1118.2L444.0,1115.0L446.0,1112.0L448.0,1109.6M455.5,1102.2L457.5,1101.5L459.5,1100.7L461.5,1100.0L463.5,1099.3L464.5,1098.9M472.5,1095.5L474.5,1094.5L476.5,1093.5L478.5,1092.5L480.5,1091.5L481.0,1091.2M489.0,1086.9L491.0,1085.2L493.0,1083.4L495.0,1081.6L497.0,1079.8L497.5,1079.4M505.5,1073.9L507.5,1072.6L509.5,1071.3L511.5,1070.1L513.5,1068.8L514.0,1068.6M522.0,1065.7L524.0,1064.9L526.0,1064.2L528.0,1063.4L530.0,1062.7L531.0,1062.3M538.5,1059.5L540.5,1058.7L542.5,1058.0L544.5,1057.2L546.5,1056.4L547.5,1056.0M555.5,1052.9L557.5,1052.1L559.5,1051.3L561.5,1050.5L563.5,1049.7L564.0,1049.5M572.0,1046.7L574.0,1046.0L576.0,1045.4L578.0,1044.7L580.0,1044.1L580.5,1043.9M588.5,1041.3L590.5,1040.6L592.5,1039.9L594.5,1039.2L596.5,1038.4L597.0,1038.2M605.0,1035.3L607.0,1034.6L609.0,1033.9L611.0,1033.2L613.0,1032.4L614.0,1032.1M621.5,1029.4L623.5,1028.7L625.5,1028.0L627.5,1027.2L629.5,1026.3L630.5,1025.9M638.5,1022.4L640.5,1021.5L642.5,1020.6L644.5,1019.8L646.5,1018.9L647.0,1018.7M655.0,1015.8L657.0,1015.1L659.0,1014.4L661.0,1013.7L663.0,1013.1L663.5,1012.9M671.5,1010.0L673.5,1009.3L675.5,1008.6L677.5,1007.9L679.5,1007.1L680.0,1006.9M688.0,1004.2L690.0,1003.6L692.0,1002.9L694.0,1002.2L696.0,1001.6L697.0,1001.3M704.5,998.5L706.5,997.7L708.5,996.8L710.5,996.0L712.5,995.2L713.5,994.8M721.5,991.6L723.5,990.8L725.5,990.1L727.5,989.4L729.5,988.7L730.0,988.6M738.0,985.9L740.0,985.3L742.0,984.6L744.0,983.9L746.0,983.2L746.5,983.0M754.5,979.9L756.5,979.1L758.5,978.3L760.5,977.3L762.5,976.4L763.0,976.2M771.0,972.4L773.0,971.4L775.0,970.5L777.0,969.5L779.0,968.6L780.0,968.2M787.5,965.0L789.5,964.2L791.5,963.4L793.5,962.6L795.5,961.8L796.5,961.4M804.5,957.9L806.5,957.1L808.5,956.2L810.5,955.3L812.5,954.4L813.0,954.1M821.0,950.6L823.0,949.6L825.0,948.8L827.0,947.9L829.0,946.9L829.5,946.7M837.5,943.1L839.5,942.2L841.5,941.3L843.5,940.4L845.5,939.5L846.0,939.3M854.0,935.7L856.0,934.8L858.0,934.0L860.0,933.1L862.0,932.3L863.0,931.8M870.5,928.8L872.5,927.9L874.5,927.1L876.5,926.2L878.5,925.3L879.5,924.8M887.5,920.9L889.5,919.9L891.5,918.7L893.5,917.4L895.5,916.1L896.0,915.8M904.0,910.5L906.0,909.3L908.0,908.1L910.0,906.9L912.0,905.8L912.5,905.5M920.5,901.2L922.5,900.3L924.5,899.4L926.5,898.5L928.5,897.5L929.0,897.3M937.0,893.4L939.0,892.2L941.0,891.0L943.0,889.8L945.0,888.6L946.0,887.9M953.5,883.3L955.5,882.1L957.5,880.9L959.5,879.7L961.5,878.7L962.5,878.2M970.5,874.6L972.5,873.7L974.5,872.8L976.5,872.0L978.5,871.2L979.0,871.0M987.0,867.9L989.0,867.0L991.0,866.2L993.0,865.3L995.0,864.3L995.5,864.0M1003.5,859.6L1005.5,858.5L1007.5,857.3L1009.5,856.2L1011.5,855.0L1012.0,854.7M1020.0,850.2L1022.0,849.0L1024.0,847.9L1026.0,846.7L1028.0,845.6L1029.0,845.0M1036.5,840.7L1038.5,839.5L1040.5,838.3L1042.5,837.2L1044.5,836.0L1045.5,835.4M1053.5,830.9L1055.5,829.8L1057.5,828.8L1059.5,827.7L1061.5,826.9L1062.0,826.7M1070.0,823.6L1072.0,822.9L1074.0,822.1L1076.0,821.4L1078.0,820.6L1078.5,820.3M1086.5,816.9L1088.5,816.0L1090.5,815.1L1092.5,814.2L1094.5,813.3L1095.0,813.0M1103.0,808.8L1105.0,807.6L1107.0,806.4L1109.0,805.2L1111.0,804.0L1112.0,803.4M1119.5,799.1L1121.5,798.3L1123.5,797.4L1125.5,796.6L1127.5,795.8L1128.5,795.4M1136.5,792.4L1138.5,791.6L1140.5,790.8L1142.5,790.1L1144.5,789.3L1145.0,789.1M1153.0,785.6L1155.0,784.6L1157.0,783.6L1159.0,782.6L1161.0,781.6L1161.5,781.4M1169.5,777.4L1171.5,776.4L1173.5,775.5L1175.5,774.5L1177.5,773.6L1178.0,773.4M1186.0,769.9L1188.0,769.0L1190.0,768.2L1192.0,767.3L1194.0,766.5L1195.0,766.1M1202.5,762.9L1204.5,762.0L1206.5,761.2L1208.5,760.3L1210.5,759.4L1211.5,759.0M1219.5,755.4L1221.5,754.5L1223.5,753.6L1225.5,752.7L1227.5,751.8L1228.0,751.6M1236.0,748.1L1238.0,747.3L1240.0,746.5L1242.0,745.7L1244.0,744.9L1244.5,744.7M1252.5,741.5L1254.5,740.7L1256.5,739.9L1258.5,739.0L1260.5,738.2L1261.0,738.0M1269.0,734.5L1271.0,733.6L1273.0,732.7L1275.0,731.8L1277.0,730.9L1278.0,730.5M1285.5,727.1L1287.5,726.2L1289.5,725.3L1291.5,724.4L1293.5,723.4L1294.5,723.0M1302.5,719.4L1304.5,718.5L1306.5,717.6L1308.5,716.8L1310.5,716.0L1311.0,715.9M1319.0,713.0L1321.0,712.3L1323.0,711.6L1325.0,710.8L1327.0,710.1L1327.5,710.0M1335.5,707.0L1337.5,706.2L1339.5,705.4L1341.5,704.7L1343.5,703.9L1344.0,703.7M1352.0,700.5L1354.0,699.7L1356.0,698.9L1358.0,698.1L1360.0,697.4L1361.0,697.0M1368.5,694.1L1370.5,693.4L1372.5,692.6L1374.5,691.9L1376.5,691.1L1377.5,690.7M1385.5,687.6L1387.5,686.8L1389.5,685.9L1391.5,684.9L1393.5,684.0L1394.0,683.7M1402.0,679.8L1404.0,678.8L1406.0,677.9L1408.0,676.9L1410.0,676.0L1410.5,675.8M1418.5,672.8L1420.5,672.1L1422.5,671.4L1424.5,670.8L1426.5,670.2L1427.0,670.0M1435.0,667.5L1437.0,666.8L1439.0,666.2L1441.0,665.6L1443.0,665.0L1444.0,664.6M1451.5,662.3L1453.5,661.6L1455.5,661.0L1457.5,660.3L1459.5,659.7L1460.5,659.3M1468.5,656.2L1470.5,655.3L1472.5,654.5L1474.5,653.6L1476.5,652.7L1477.0,652.5M1485.0,649.1L1487.0,648.2L1489.0,647.5L1491.0,646.8L1493.0,646.2L1493.5,646.0M1501.5,643.5L1503.5,642.9L1505.5,642.3L1507.5,641.7L1509.5,641.0L1510.0,640.9M1518.0,638.4L1520.0,637.8L1522.0,637.2L1524.0,636.6L1526.0,636.0L1527.0,635.7M1534.5,633.3L1536.5,632.6L1538.5,631.8L1540.5,631.0L1542.5,630.2L1543.5,629.7M1551.5,626.2L1553.5,625.3L1555.5,624.4L1557.5,623.5L1559.5,622.7L1560.0,622.5M1568.0,619.4L1570.0,618.8L1572.0,618.2L1574.0,617.7L1576.0,617.1L1576.5,616.9M1584.5,614.7L1586.5,614.2L1588.5,613.6L1590.5,613.1L1592.5,612.5L1593.0,612.4M1601.0,610.2L1603.0,609.7L1605.0,609.1L1607.0,608.6L1609.0,608.0L1610.0,607.7M1617.5,605.5L1619.5,604.9L1621.5,604.1L1623.5,603.3L1625.5,602.4L1626.5,602.0M1634.5,598.5L1636.5,597.6L1638.5,596.7L1640.5,595.8L1642.5,595.0L1643.0,594.8M1651.0,591.9L1653.0,591.3L1655.0,590.8L1657.0,590.3L1659.0,589.7L1659.5,589.6M1667.5,587.6L1669.5,587.1L1671.5,586.6L1673.5,586.1L1675.5,585.6L1676.0,585.5M1684.0,583.5L1686.0,583.0L1688.0,582.5L1690.0,582.0L1692.0,581.5L1693.0,581.3M1700.5,579.3L1702.5,578.7L1704.5,578.1L1706.5,577.4L1708.5,576.7L1709.5,576.4M1717.5,573.6L1719.5,572.9L1721.5,572.2L1723.5,571.5L1725.5,570.9L1726.0,570.7M1734.0,568.3L1736.0,567.8L1738.0,567.2L1740.0,566.7L1742.0,566.2L1742.5,566.1M1750.5,564.1L1752.5,563.6L1754.5,563.1L1756.5,562.6L1758.5,562.1L1759.0,562.0M1767.0,560.0L1769.0,559.5L1771.0,559.0L1773.0,558.5L1775.0,558.0L1776.0,557.7M1783.5,555.8L1785.5,555.3L1787.5,554.7L1789.5,554.1L1791.5,553.5L1792.5,553.2M1800.5,550.8L1802.5,550.2L1804.5,549.6L1806.5,549.1L1808.5,548.5L1809.0,548.3M1817.0,546.4L1819.0,546.0L1821.0,545.5L1823.0,545.1L1825.0,544.7L1825.5,544.6M1833.5,543.0L1835.5,542.7L1837.5,542.3L1839.5,541.9L1841.5,541.5L1842.0,541.4" fill="none" stroke="#ff1e1e" stroke-width="5.8" stroke-linejoin="round"/>
<path d="M537.8,583.4L990.0,599.6" stroke="#ff10ff" stroke-width="4.8" fill="none"/><path d="M1025.0,600.8L989.6,610.5L990.4,588.6Z" fill="#ff10ff"/>
<path d="M537.8,583.4L1018.1,676.8" stroke="#ff10ff" stroke-width="4.8" fill="none"/><path d="M1052.5,683.5L1016.0,687.6L1020.2,666.0Z" fill="#ff10ff"/>
<path d="M1453.0,930.5L1139.6,756.7" stroke="#ff10ff" stroke-width="4.8" fill="none"/><path d="M1109.0,739.7L1144.9,747.1L1134.3,766.3Z" fill="#ff10ff"/>
<path d="M1453.0,930.5L1060.8,852.6" stroke="#ff10ff" stroke-width="4.8" fill="none"/><path d="M1026.5,845.8L1063.0,841.8L1058.7,863.4Z" fill="#ff10ff"/>
</g>
<g id="labels" filter="url(#softt)">
<text text-anchor="end" font-size="73" transform="translate(185.6,1229.4) scale(1,1.045)">0</text>
<text text-anchor="end" font-size="73" transform="translate(185.6,1105.0) scale(1,1.045)">5</text>
<text text-anchor="end" font-size="73" transform="translate(185.6,980.6) scale(1,1.045)">10</text>
<text text-anchor="end" font-size="73" transform="translate(185.6,856.2) scale(1,1.045)">15</text>
<text text-anchor="end" font-size="73" transform="translate(185.6,731.8) scale(1,1.045)">20</text>
<text text-anchor="end" font-size="73" transform="translate(185.6,607.4) scale(1,1.045)">25</text>
<text text-anchor="end" font-size="73" transform="translate(185.6,483.0) scale(1,1.045)">30</text>
<text text-anchor="end" font-size="73" transform="translate(185.6,358.6) scale(1,1.045)">35</text>
<text text-anchor="end" font-size="73" transform="translate(185.6,234.2) scale(1,1.045)">40</text>
<text text-anchor="end" font-size="73" transform="translate(185.6,109.8) scale(1,1.045)">45</text>
<text text-anchor="middle" textLength="35.6" lengthAdjust="spacingAndGlyphs" font-size="73" transform="translate(256.6,1346.0) scale(1,1.045)">0</text>
<text text-anchor="middle" textLength="106.9" lengthAdjust="spacingAndGlyphs" font-size="73" transform="translate(468.5,1346.0) scale(1,1.045)">200</text>
<text text-anchor="middle" textLength="106.9" lengthAdjust="spacingAndGlyphs" font-size="73" transform="translate(680.4,1346.0) scale(1,1.045)">400</text>
<text text-anchor="middle" textLength="106.9" lengthAdjust="spacingAndGlyphs" font-size="73" transform="translate(892.2,1346.0) scale(1,1.045)">600</text>
<text text-anchor="middle" textLength="106.9" lengthAdjust="spacingAndGlyphs" font-size="73" transform="translate(1104.1,1346.0) scale(1,1.045)">800</text>
<text text-anchor="middle" textLength="142.6" lengthAdjust="spacingAndGlyphs" font-size="73" transform="translate(1316.0,1346.0) scale(1,1.045)">1000</text>
<text text-anchor="middle" textLength="142.6" lengthAdjust="spacingAndGlyphs" font-size="73" transform="translate(1527.9,1346.0) scale(1,1.045)">1200</text>
<text text-anchor="middle" textLength="142.6" lengthAdjust="spacingAndGlyphs" font-size="73" transform="translate(1739.8,1346.0) scale(1,1.045)">1400</text>
<text class="b" textLength="936" lengthAdjust="spacingAndGlyphs" font-size="77" transform="translate(583.0,1409.6)">Distance from meniscus,mm</text>
<text class="b" textLength="645.5" lengthAdjust="spacingAndGlyphs" font-size="78.5" transform="translate(95.4,992.8) rotate(-90)">Shell thickness,mm</text>
<text style="stroke:#1a1a1a;stroke-width:1.0px" text-anchor="middle" font-size="80" transform="translate(494.5,160.6) scale(1,1.06)">+</text>
<text style="stroke:#1a1a1a;stroke-width:1.0px" text-anchor="middle" font-size="80" transform="translate(494.5,250.0) scale(1,1.06)">+</text>
<text textLength="399.2" lengthAdjust="spacingAndGlyphs" font-size="73" transform="translate(715.2,157.2) scale(1,1.01)">Without EMS</text>
<text textLength="300.7" lengthAdjust="spacingAndGlyphs" font-size="73" transform="translate(711.7,247.6) scale(1,1.05)">600A,2Hz</text>
<text class="b" textLength="310" lengthAdjust="spacingAndGlyphs" font-size="72" transform="translate(227.0,595.0)">liquid line</text>
<text class="b" textLength="275" lengthAdjust="spacingAndGlyphs" font-size="72" transform="translate(1446.0,945.0)">solid line</text>
</g>
</svg></body></html>
